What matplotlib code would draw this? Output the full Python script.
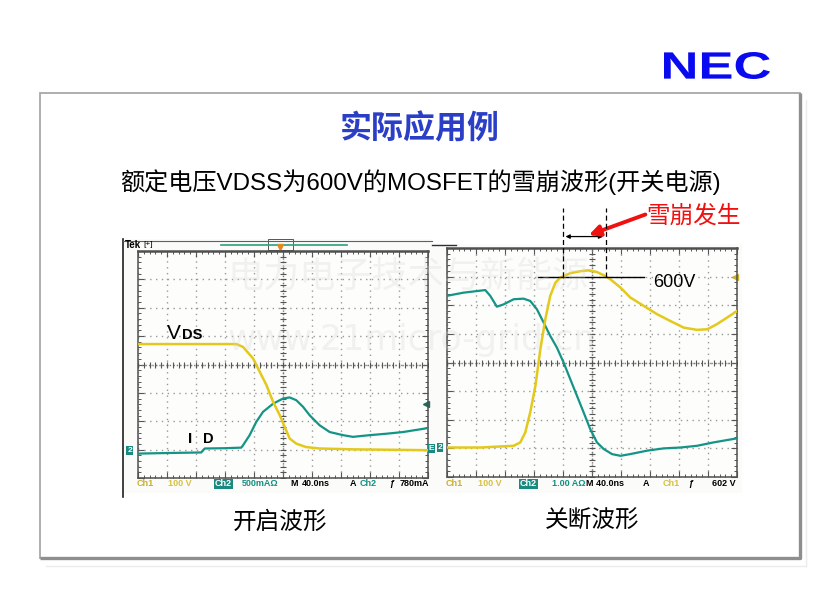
import numpy as np
import matplotlib
matplotlib.use('Agg')
import matplotlib.pyplot as plt
from matplotlib.textpath import TextPath
from matplotlib.patches import PathPatch, Rectangle
from matplotlib.font_manager import FontProperties
from matplotlib.transforms import Affine2D

plt.rcParams['font.family'] = ['Liberation Sans', 'Noto Sans CJK SC', 'DejaVu Sans']

W, H = 838, 598

# turn-on waveform (x and y in scope divisions, 10 x 8)
on_vds_t = [0, 3.39, 3.62, 3.97, 4.2, 4.43, 4.66, 4.89, 5.06, 5.23, 5.46, 5.8, 6.26, 7.41, 10]
on_vds = [4.72, 4.72, 4.62, 4.21, 3.74, 3.27, 2.68, 2.21, 1.80, 1.39, 1.21, 1.09, 1.04, 1.01, 0.98]
on_id_t = [0, 1.0, 2.18, 2.30, 3.0, 3.56, 3.62, 3.85, 4.08, 4.31, 4.66, 5.0, 5.23,
           5.46, 5.69, 5.92, 6.26, 6.61, 7.07, 7.41, 7.99, 8.56, 9.14, 10]
on_id = [0.86, 0.88, 0.90, 1.04, 1.05, 1.07, 1.15, 1.51, 1.98, 2.33, 2.62, 2.80, 2.84,
         2.74, 2.51, 2.21, 1.86, 1.62, 1.51, 1.45, 1.51, 1.56, 1.62, 1.76]

# turn-off waveform
off_id_t = [0, 0.57, 1.32, 1.49, 1.72, 1.95, 2.30, 2.64, 2.87, 3.10, 3.33, 3.56, 3.79, 4.02,
            4.25, 4.48, 4.71, 4.94, 5.17, 5.40, 5.69, 5.98, 6.32, 6.90, 7.47, 8.05, 8.62,
            9.20, 9.54, 10]
off_id = [6.33, 6.44, 6.53, 6.33, 5.95, 6.03, 6.21, 6.23, 6.15, 5.86, 5.40, 4.93, 4.52, 4.0,
          3.42, 2.84, 2.26, 1.67, 1.21, 0.98, 0.80, 0.74, 0.80, 0.92, 1.0, 1.03, 1.09,
          1.21, 1.27, 1.35]
off_vds_t = [0, 1.15, 2.30, 2.53, 2.70, 2.87, 3.05, 3.22, 3.39, 3.56, 3.74, 3.91, 4.25, 4.60,
             4.89, 5.17, 5.40, 5.63, 5.98, 6.32, 6.78, 7.24, 7.70, 8.16, 8.62, 8.97, 9.31,
             9.66, 10]
off_vds = [1.03, 1.03, 1.09, 1.21, 1.56, 2.26, 3.19, 4.47, 5.51, 6.33, 6.79, 6.97, 7.12, 7.19,
           7.22, 7.16, 7.05, 6.91, 6.62, 6.27, 5.98, 5.69, 5.45, 5.22, 5.14, 5.16, 5.34,
           5.57, 5.80]

level_600v = 7.0
aval_start, aval_end = 3.99, 5.48

on_status = [('Ch1', '#c8b030'), ('100 V', '#d8c040'), ('Ch2', 'box'), ('500mAΩ', '#129080'),
             ('M', 'k'), ('40.0ns', 'k'), ('A', 'k'), ('Ch2', '#129080'), ('ƒ', 'k'), ('780mA', 'k')]
on_status_x = [137, 168, 215, 242, 290, 302, 350, 360, 389, 400]
off_status = [('Ch1', '#c8b030'), ('100 V', '#d8c040'), ('Ch2', 'box'), ('1.00 AΩ', '#129080'),
              ('M 40.0ns', 'k'), ('A', 'k'), ('Ch1', '#d8c040'), ('ƒ', 'k'), ('602 V', 'k')]
off_status_x = [446, 478, 520, 552, 586, 643, 663, 688, 712]

YEL = '#e3c91c'
TEAL = '#149486'

fig = plt.figure(figsize=(W / 100, H / 100), dpi=100)
fig.patch.set_facecolor('white')

bg = fig.add_axes([0, 0, 1, 1], zorder=0)
bg.set_xlim(0, W)
bg.set_ylim(H, 0)
bg.axis('off')

# slide frame with shadow
bg.plot([806, 806], [100, 566], color='#ececec', lw=1)
bg.plot([46, 806], [566, 566], color='#ececec', lw=1)
bg.add_patch(Rectangle((40, 93), 760, 465, fill=False, edgecolor='#a8a8a8', lw=1.3))
bg.plot([40, 800, 800], [558, 558, 93], color='#8e8e8e', lw=2.4, solid_capstyle='butt')

# NEC logo
tp = TextPath((0, 0), 'NEC', size=1, prop=FontProperties(family='Liberation Sans', weight='bold'))
bb = tp.get_extents()
tr = Affine2D().translate(-bb.x0, -bb.y0).scale(106 / bb.width, -27 / bb.height).translate(664, 79)
bg.add_patch(PathPatch(tr.transform_path(tp), facecolor='#0a0af0', edgecolor='none'))

bg.text(420, 130, '实际应用例', ha='center', va='center', fontsize=23, fontweight='bold',
        color='#2b3fc6')
bg.text(420, 182, '额定电压VDSS为600V的MOSFET的雪崩波形(开关电源)', ha='center', va='center',
        fontsize=17.4, color='black')
bg.text(280, 523, '开启波形', ha='center', va='center', fontsize=17)
bg.text(592, 522, '关断波形', ha='center', va='center', fontsize=17)

# screenshot backgrounds and borders
bg.add_patch(Rectangle((123, 239), 309, 254, facecolor='#fbfbf9', edgecolor='none'))
bg.add_patch(Rectangle((432, 244), 310, 249, facecolor='#fbfbf9', edgecolor='none'))
bg.plot([123, 123], [239, 497], color='#202020', lw=1.2)
bg.plot([123, 432], [241, 241], color='#606060', lw=0.8)
bg.plot([432, 456], [245, 245], color='#303030', lw=1)
bg.text(125, 245, 'Tek', fontsize=7, fontweight='bold', va='center')
bg.text(143, 245, '[+]', fontsize=6, va='center')
bg.plot([221, 347], [245, 245], color='#2aa080', lw=1.2)
bg.add_patch(Rectangle((268, 239), 25, 11, fill=False, edgecolor='#555555', lw=0.7))
bg.plot([280], [247], marker='v', color='#e08a20', ms=4)
bg.plot([280], [257], marker='s', color='#e08a20', ms=4)
bg.plot([581], [251], marker='v', color='#e08a20', ms=4)
bg.plot([581], [259], marker='s', color='#e08a20', ms=4)

for items, xs in ((on_status, on_status_x), (off_status, off_status_x)):
    for (label, col), x in zip(items, xs):
        if col == 'box':
            bg.text(x, 484, label, fontsize=6.5, fontweight='bold', color='white', va='center',
                    bbox=dict(boxstyle='square,pad=0.1', facecolor='#1a8a80', edgecolor='none'))
        else:
            bg.text(x, 484, label, fontsize=6.5, fontweight='bold', color=col, va='center')


def px_axes(x0, y0, x1, y1):
    return fig.add_axes([x0 / W, 1 - y1 / H, (x1 - x0) / W, (y1 - y0) / H], zorder=1)


def graticule(ax):
    ax.set_xlim(0, 10)
    ax.set_ylim(0, 8)
    ax.set_facecolor('#fdfdfb')
    ax.set_xticks(range(11))
    ax.set_yticks(range(9))
    ax.set_xticks(np.arange(0, 10.01, 0.2), minor=True)
    ax.set_yticks(np.arange(0, 8.01, 0.2), minor=True)
    ax.tick_params(which='both', direction='in', top=True, right=True, color='#555555',
                   labelbottom=False, labelleft=False)
    ax.tick_params(which='major', length=4, width=0.8)
    ax.tick_params(which='minor', length=2.5, width=0.7)
    for s in ax.spines.values():
        s.set_color('#505050')
        s.set_linewidth(1.1)
    ax.spines['top'].set_linewidth(1.8)
    ax.grid(True, which='major', color='#999999', lw=1, linestyle=(0, (1, 3.2)))
    ax.axhline(4, color='#777777', lw=1, linestyle=(0, (1, 1.5)))
    ax.axvline(5, color='#777777', lw=1, linestyle=(0, (1, 1.5)))
    ax.plot(np.arange(0, 10.01, 0.2), np.full(51, 4.0), ls='none', marker='|', ms=4,
            color='#555555', mew=0.8)
    ax.plot(np.full(41, 5.0), np.arange(0, 8.01, 0.2), ls='none', marker='_', ms=4,
            color='#555555', mew=0.8)


ax1 = px_axes(138, 251, 428, 478)
graticule(ax1)
ax1.plot(on_id_t, on_id, color=TEAL, lw=1.6, zorder=3)
ax1.plot(on_vds_t, on_vds, color=YEL, lw=1.8, zorder=4)
ax1.text(1.0, 4.9, 'V', fontsize=15, va='baseline', zorder=5)
ax1.text(1.5, 4.9, 'DS', fontsize=10.5, fontweight='bold', va='baseline', zorder=5)
ax1.text(1.72, 1.23, 'I', fontsize=11, fontweight='bold', va='baseline', zorder=5)
ax1.text(2.24, 1.23, 'D', fontsize=10.5, fontweight='bold', va='baseline', zorder=5)
ax1.text(-0.37, 0.98, '2', fontsize=6, fontweight='bold', color='white', va='center',
         clip_on=False, bbox=dict(boxstyle='square,pad=0.1', facecolor='#1a8a80', edgecolor='none'))
ax1.text(10.02, 1.05, 'E', fontsize=6, fontweight='bold', color='white', va='center',
         clip_on=False, bbox=dict(boxstyle='square,pad=0.1', facecolor='#1a8a80', edgecolor='none'))
ax1.plot([9.93], [2.6], marker='<', color='#1a6a60', ms=4, clip_on=False)

ax2 = px_axes(447, 248, 737, 477)
graticule(ax2)
ax2.plot(off_id_t, off_id, color=TEAL, lw=1.6, zorder=3)
ax2.plot(off_vds_t, off_vds, color=YEL, lw=1.8, zorder=4)
ax2.text(-0.33, 1.03, '2', fontsize=6, fontweight='bold', color='white', va='center',
         clip_on=False, bbox=dict(boxstyle='square,pad=0.1', facecolor='#1a8a80', edgecolor='none'))
ax2.plot([9.93], [7.0], marker='<', color='#c8b030', ms=4, clip_on=False)

# avalanche annotation
ax2.plot([3.13, 6.78], [level_600v, level_600v], color='black', lw=1, zorder=6, clip_on=False)
for xv in (aval_start, aval_end):
    ax2.plot([xv, xv], [6.97, 9.41], color='black', lw=0.9, ls=(0, (4, 2.5)), zorder=6,
             clip_on=False)
ax2.annotate('', xy=(aval_start, 8.4), xytext=(aval_end, 8.4),
             arrowprops=dict(arrowstyle='<|-|>', color='black', lw=0.9, mutation_scale=6),
             annotation_clip=False)
ax2.annotate('', xy=(4.89, 8.45), xytext=(6.84, 9.17),
             arrowprops=dict(arrowstyle='-|>', color='#f01010', lw=2.8, mutation_scale=16,
                             shrinkA=0, shrinkB=0),
             annotation_clip=False)
ax2.text(7.1, 6.78, '600V', fontsize=13, va='center', zorder=6)
ax2.text(6.86, 9.12, '雪崩发生', fontsize=17, color='#f01010', va='center', clip_on=False)

# watermark
wm = fig.add_axes([0, 0, 1, 1], zorder=5)
wm.set_xlim(0, W)
wm.set_ylim(H, 0)
wm.axis('off')
wm.patch.set_alpha(0)
wm.text(227, 278, '电力电子技术与新能源', fontsize=26, color='#d8d8d8', alpha=0.3, va='center')
wm.text(228, 340, 'www.21micro-grid.cn', fontsize=25, family='DejaVu Sans', color='#d8d8d8',
        alpha=0.3, va='center')

fig.savefig('out.png', dpi=100)
